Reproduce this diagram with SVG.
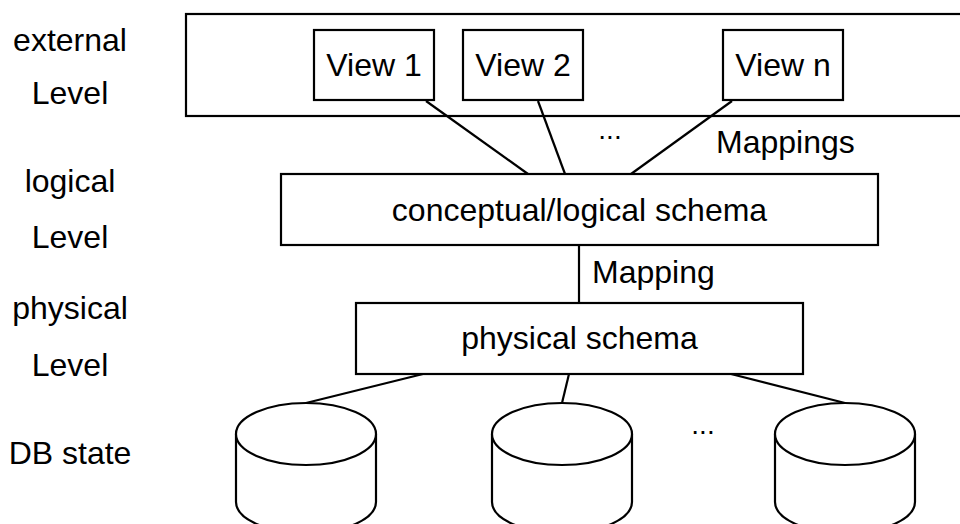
<svg xmlns="http://www.w3.org/2000/svg" width="960" height="524" viewBox="0 0 960 524">
<style>
.box{fill:#fff;stroke:#000;stroke-width:2.2}
.ln{stroke:#000;stroke-width:2.2;fill:none}
text{font-family:"Liberation Sans",Arial,Helvetica,sans-serif;font-size:32px;fill:#000}
.c{text-anchor:middle}
</style>
<rect width="960" height="524" fill="#fff"/>
<g id="labels">
<text class="c" x="70" y="51">external</text>
<text class="c" x="70" y="104">Level</text>
<text class="c" x="70" y="192">logical</text>
<text class="c" x="70" y="248">Level</text>
<text class="c" x="70" y="319">physical</text>
<text class="c" x="70" y="376">Level</text>
<text class="c" x="70" y="464">DB state</text>
</g>
<g id="external">
<rect class="box" x="186" y="14" width="800" height="102"/>
</g>
<g id="connectors">
<line class="ln" x1="426" y1="101" x2="528" y2="174"/>
<line class="ln" x1="538" y1="101" x2="565" y2="174"/>
<line class="ln" x1="732" y1="101" x2="631" y2="174"/>
<line class="ln" x1="579" y1="245" x2="579" y2="303"/>
<line class="ln" x1="423" y1="374" x2="306" y2="403"/>
<line class="ln" x1="569" y1="374" x2="562" y2="403"/>
<line class="ln" x1="731" y1="374" x2="845" y2="403"/>
<text x="610" y="139" class="c" style="font-size:28px">...</text>
<text x="716" y="153">Mappings</text>
<text x="592" y="283">Mapping</text>
<text x="703" y="434" class="c" style="font-size:28px">...</text>
</g>
<g id="view1">
<rect class="box" x="314" y="30" width="120" height="70"/>
<text class="c" x="374" y="76">View 1</text>
</g>
<g id="view2">
<rect class="box" x="463" y="30" width="120" height="70"/>
<text class="c" x="523" y="76">View 2</text>
</g>
<g id="viewn">
<rect class="box" x="723" y="30" width="120" height="70"/>
<text class="c" x="783" y="76">View n</text>
</g>
<g id="conceptual">
<rect class="box" x="281" y="174" width="597" height="71"/>
<text class="c" x="579.5" y="221">conceptual/logical schema</text>
</g>
<g id="physical">
<rect class="box" x="356" y="303" width="447" height="71"/>
<text class="c" x="579.5" y="349">physical schema</text>
</g>
<g id="db1">
<path class="box" d="M236,434 V502 A70,31 0 0 0 376,502 V434"/>
<ellipse class="box" cx="306" cy="434" rx="70" ry="31"/>
</g>
<g id="db2">
<path class="box" d="M492,434 V502 A70,31 0 0 0 632,502 V434"/>
<ellipse class="box" cx="562" cy="434" rx="70" ry="31"/>
</g>
<g id="db3">
<path class="box" d="M775,434 V502 A70,31 0 0 0 915,502 V434"/>
<ellipse class="box" cx="845" cy="434" rx="70" ry="31"/>
</g>
</svg>
